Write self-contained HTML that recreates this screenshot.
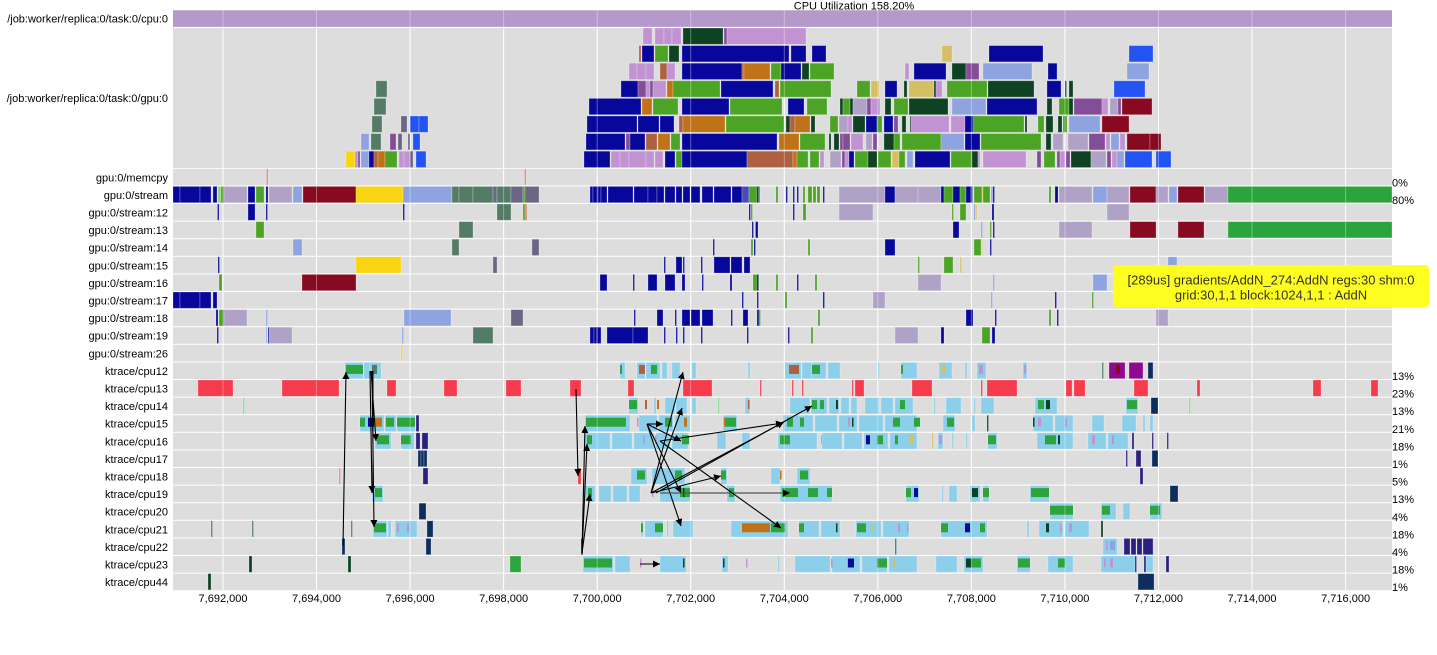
<!DOCTYPE html>
<html><head><meta charset="utf-8"><style>
html,body{margin:0;padding:0;background:#fff;}
svg{display:block;font-family:"Liberation Sans",Arial,sans-serif;}
.r rect{height:16.3px;stroke:#fff;stroke-opacity:.3;stroke-width:.8;}
.r rect.i{y:2.5px;height:9px;stroke:none;}
.db{fill:#07079b}.lp{fill:#c193d3}.dg{fill:#0e4222}.gr{fill:#4ca424}.or{fill:#c07216}
.br{fill:#ad6042}.pw{fill:#8ea3e0}.gp{fill:#b0a1c6}.dr{fill:#880a20}.bb{fill:#2353f2}
.kh{fill:#d4bf64}.tg{fill:#537b66}.sl{fill:#6b6684}.yl{fill:#f8d412}.vi{fill:#844d98}
.sb{fill:#8ccfea}.kg{fill:#2da43c}.rd{fill:#f53b4c}.nv{fill:#0d2d5e}.in{fill:#2b1f80}
.mg{fill:#8e0a8e}.lg{fill:#7de08f}.sg{fill:#2ca43e}.mb{fill:#4a4ab5}.lgn{fill:#90d070}
.sal{fill:#e8806e}.tl{fill:#2a7a8a}.lr{fill:#f08080}
.lab{font-size:11px;fill:#000;text-anchor:end}
.pct{font-size:11px;fill:#000}
.ax{font-size:11px;fill:#000;text-anchor:middle}
.ar{stroke:#000;stroke-width:1.1;fill:none;marker-end:url(#ah)}
</style></head><body>
<svg width="1437" height="655" viewBox="0 0 1437 655" xmlns="http://www.w3.org/2000/svg">
<defs><marker id="ah" viewBox="0 0 10 10" refX="10" refY="5" markerWidth="7" markerHeight="7" orient="auto" markerUnits="userSpaceOnUse"><path d="M0,0L10,5L0,10z" fill="#000"/></marker></defs>
<rect x="0" y="0" width="1437" height="655" fill="#fff"/>
<text x="854" y="9.5" font-size="11" text-anchor="middle">CPU Utilization 158.20%</text>
<g fill="#dddddd">
<rect x="173" y="10" width="1219" height="17"/>
<rect x="173" y="28" width="1219" height="140"/>
<rect x="173" y="168.8" width="1219" height="16.6"/>
<rect x="173" y="186.4" width="1219" height="16.6"/>
<rect x="173" y="204.0" width="1219" height="16.6"/>
<rect x="173" y="221.6" width="1219" height="16.6"/>
<rect x="173" y="239.2" width="1219" height="16.6"/>
<rect x="173" y="256.8" width="1219" height="16.6"/>
<rect x="173" y="274.4" width="1219" height="16.6"/>
<rect x="173" y="292.0" width="1219" height="16.6"/>
<rect x="173" y="309.6" width="1219" height="16.6"/>
<rect x="173" y="327.2" width="1219" height="16.6"/>
<rect x="173" y="344.8" width="1219" height="16.6"/>
<rect x="173" y="362.4" width="1219" height="16.6"/>
<rect x="173" y="380.0" width="1219" height="16.6"/>
<rect x="173" y="397.6" width="1219" height="16.6"/>
<rect x="173" y="415.2" width="1219" height="16.6"/>
<rect x="173" y="432.8" width="1219" height="16.6"/>
<rect x="173" y="450.4" width="1219" height="16.6"/>
<rect x="173" y="468.0" width="1219" height="16.6"/>
<rect x="173" y="485.6" width="1219" height="16.6"/>
<rect x="173" y="503.2" width="1219" height="16.6"/>
<rect x="173" y="520.8" width="1219" height="16.6"/>
<rect x="173" y="538.4" width="1219" height="16.6"/>
<rect x="173" y="556.0" width="1219" height="16.6"/>
<rect x="173" y="573.6" width="1219" height="16.6"/>
</g>
<g stroke="#fff" stroke-width="1">
<line x1="223" y1="10" x2="223" y2="590"/><line x1="316.5" y1="10" x2="316.5" y2="590"/><line x1="410.1" y1="10" x2="410.1" y2="590"/><line x1="503.6" y1="10" x2="503.6" y2="590"/><line x1="597.2" y1="10" x2="597.2" y2="590"/><line x1="690.7" y1="10" x2="690.7" y2="590"/><line x1="784.3" y1="10" x2="784.3" y2="590"/><line x1="877.8" y1="10" x2="877.8" y2="590"/><line x1="971.4" y1="10" x2="971.4" y2="590"/><line x1="1064.9" y1="10" x2="1064.9" y2="590"/><line x1="1158.5" y1="10" x2="1158.5" y2="590"/><line x1="1252" y1="10" x2="1252" y2="590"/><line x1="1345.6" y1="10" x2="1345.6" y2="590"/>
</g>
<rect x="173" y="10.4" width="1219" height="16.4" fill="#b599cb"/>
<g class="r" transform="translate(0,28.0)">
<rect class="lp" x="643" width="9"/><rect class="lp" x="655" width="9"/><rect class="lp" x="664" width="8"/><rect class="lp" x="672" width="9"/><rect class="dg" x="683" width="40"/><rect class="vi" x="724" width="3"/><rect class="lp" x="727" width="79"/>
</g>
<g class="r" transform="translate(0,45.6)">
<rect class="br" x="639" width="2"/><rect class="db" x="642" width="12"/><rect class="gr" x="655" width="13"/><rect class="dg" x="669" width="10"/><rect class="db" x="682" width="107"/><rect class="db" x="791" width="15"/><rect class="db" x="812" width="14"/><rect class="kh" x="942" width="10"/><rect class="db" x="989" width="54"/><rect class="bb" x="1129" width="24"/>
</g>
<g class="r" transform="translate(0,63.2)">
<rect class="lp" x="629" width="8"/><rect class="lp" x="637" width="9"/><rect class="lp" x="646" width="8"/><rect class="br" x="660" width="7"/><rect class="lp" x="667" width="8"/><rect class="db" x="682" width="60"/><rect class="br" x="742" width="2"/><rect class="or" x="744" width="26"/><rect class="gr" x="771" width="10"/><rect class="db" x="781" width="20"/><rect class="dg" x="802" width="7"/><rect class="gr" x="810" width="24"/><rect class="lp" x="905" width="4"/><rect class="db" x="914" width="32"/><rect class="dg" x="952" width="14"/><rect class="vi" x="966" width="13"/><rect class="pw" x="983" width="49"/><rect class="db" x="1048" width="9"/><rect class="pw" x="1127" width="22"/>
</g>
<g class="r" transform="translate(0,80.8)">
<rect class="tg" x="376" width="11"/><rect class="db" x="621" width="17"/><rect class="vi" x="638" width="8"/><rect class="lp" x="646" width="4"/><rect class="vi" x="650" width="3"/><rect class="lp" x="653" width="13"/><rect class="or" x="667" width="6"/><rect class="gr" x="673" width="47"/><rect class="db" x="721" width="52"/><rect class="br" x="775" width="4"/><rect class="gr" x="780" width="51"/><rect class="gr" x="857" width="13"/><rect class="kh" x="871" width="8"/><rect class="db" x="885" width="12"/><rect class="dg" x="904" width="3"/><rect class="kh" x="909" width="25"/><rect class="dg" x="934" width="2"/><rect class="lp" x="936" width="6"/><rect class="gr" x="947" width="40"/><rect class="dg" x="988" width="46"/><rect class="db" x="1047" width="14"/><rect class="dg" x="1065" width="1.5"/><rect class="dg" x="1069" width="4"/><rect class="bb" x="1114" width="31"/>
</g>
<g class="r" transform="translate(0,98.4)">
<rect class="tg" x="374" width="12"/><rect class="db" x="589" width="52"/><rect class="or" x="642" width="10"/><rect class="gr" x="653" width="25"/><rect class="db" x="682" width="47"/><rect class="gr" x="730" width="52"/><rect class="db" x="788" width="16"/><rect class="gr" x="807" width="20"/><rect class="dg" x="840" width="3"/><rect class="gr" x="843" width="7"/><rect class="dg" x="850" width="3"/><rect class="gp" x="853" width="14"/><rect class="vi" x="867" width="4"/><rect class="lp" x="871" width="9"/><rect class="dg" x="885" width="6"/><rect class="gr" x="894" width="14"/><rect class="dg" x="909" width="39"/><rect class="pw" x="952" width="34"/><rect class="db" x="987" width="50"/><rect class="dg" x="1047" width="5"/><rect class="gr" x="1059" width="10"/><rect class="dg" x="1069" width="4"/><rect class="vi" x="1074" width="28"/><rect class="lp" x="1102" width="6"/><rect class="gp" x="1110" width="8"/><rect class="vi" x="1118" width="3"/><rect class="dr" x="1122" width="30"/>
</g>
<g class="r" transform="translate(0,116.0)">
<rect class="tg" x="372" width="10"/><rect class="sl" x="401" width="6"/><rect class="bb" x="410" width="9"/><rect class="bb" x="419" width="9"/><rect class="db" x="587" width="50"/><rect class="db" x="638" width="21"/><rect class="db" x="660" width="14"/><rect class="br" x="679" width="4"/><rect class="or" x="683" width="42"/><rect class="gr" x="726" width="58"/><rect class="dg" x="786" width="4"/><rect class="br" x="790" width="5"/><rect class="or" x="795" width="15"/><rect class="dg" x="811" width="4"/><rect class="gr" x="830" width="8"/><rect class="gp" x="839" width="9"/><rect class="lp" x="848" width="4"/><rect class="dg" x="853" width="12"/><rect class="db" x="866" width="11"/><rect class="gr" x="877" width="5"/><rect class="db" x="884" width="9"/><rect class="vi" x="894" width="4"/><rect class="dg" x="902" width="4"/><rect class="dg" x="910" width="1.5"/><rect class="lp" x="911" width="38"/><rect class="lp" x="951" width="14"/><rect class="db" x="965" width="8"/><rect class="gr" x="973" width="51"/><rect class="dg" x="1025" width="2"/><rect class="gr" x="1038" width="6"/><rect class="dg" x="1046" width="7"/><rect class="dg" x="1058" width="4"/><rect class="gr" x="1063" width="4"/><rect class="pw" x="1069" width="31"/><rect class="dr" x="1102" width="27"/>
</g>
<g class="r" transform="translate(0,133.6)">
<rect class="pw" x="361" width="8"/><rect class="tg" x="371" width="10"/><rect class="vi" x="390" width="6"/><rect class="sl" x="398" width="4"/><rect class="sl" x="408" width="2"/><rect class="bb" x="413" width="7"/><rect class="db" x="586" width="39"/><rect class="vi" x="626" width="4"/><rect class="db" x="630" width="15"/><rect class="br" x="646" width="11"/><rect class="or" x="658" width="12"/><rect class="gr" x="671" width="9"/><rect class="db" x="682" width="95"/><rect class="or" x="779" width="20"/><rect class="gr" x="800" width="25"/><rect class="dg" x="829" width="2"/><rect class="dg" x="834" width="5"/><rect class="vi" x="840" width="3"/><rect class="vi" x="843" width="7"/><rect class="lp" x="851" width="12"/><rect class="gp" x="866" width="6"/><rect class="vi" x="873" width="4"/><rect class="dg" x="884" width="10"/><rect class="gr" x="894" width="6"/><rect class="gr" x="902" width="39"/><rect class="pw" x="941" width="23"/><rect class="db" x="965" width="15"/><rect class="gr" x="981" width="60"/><rect class="dg" x="1046" width="5"/><rect class="gp" x="1053" width="10"/><rect class="gp" x="1068" width="20"/><rect class="vi" x="1089" width="16"/><rect class="lp" x="1106" width="4"/><rect class="pw" x="1111" width="8"/><rect class="lp" x="1120" width="5"/><rect class="dr" x="1127" width="23"/><rect class="dr" x="1150" width="11"/>
</g>
<g class="r" transform="translate(0,151.2)">
<rect class="yl" x="346" width="9"/><rect class="lp" x="355" width="3"/><rect class="vi" x="358" width="2"/><rect class="pw" x="361" width="8"/><rect class="db" x="369" width="5"/><rect class="br" x="374" width="4"/><rect class="or" x="378" width="7"/><rect class="gr" x="385" width="12"/><rect class="lp" x="399" width="5"/><rect class="lp" x="404" width="6"/><rect class="sl" x="410" width="3"/><rect class="bb" x="416" width="10"/><rect class="db" x="584" width="26"/><rect class="lp" x="611" width="9"/><rect class="lp" x="620" width="9"/><rect class="lp" x="629" width="17"/><rect class="lp" x="646" width="8"/><rect class="lp" x="655" width="8"/><rect class="db" x="665" width="10"/><rect class="gr" x="676" width="6"/><rect class="db" x="682" width="65"/><rect class="br" x="747" width="46"/><rect class="or" x="793" width="4"/><rect class="gr" x="797" width="11"/><rect class="gr" x="810" width="9"/><rect class="lp" x="820" width="4"/><rect class="gp" x="830" width="11"/><rect class="vi" x="842" width="3"/><rect class="lp" x="845" width="4"/><rect class="db" x="849" width="5"/><rect class="gr" x="855" width="13"/><rect class="dg" x="868" width="9"/><rect class="gr" x="878" width="13"/><rect class="kh" x="892" width="7"/><rect class="gr" x="899" width="6"/><rect class="pw" x="907" width="6"/><rect class="db" x="915" width="35"/><rect class="gr" x="951" width="21"/><rect class="dg" x="972" width="6"/><rect class="lp" x="978" width="2"/><rect class="lp" x="983" width="43"/><rect class="vi" x="1037" width="4"/><rect class="gr" x="1044" width="11"/><rect class="vi" x="1057" width="3"/><rect class="lp" x="1060" width="5"/><rect class="vi" x="1066" width="4"/><rect class="dg" x="1071" width="20"/><rect class="gp" x="1091" width="15"/><rect class="vi" x="1107" width="4"/><rect class="lp" x="1112" width="5"/><rect class="pw" x="1117" width="7"/><rect class="bb" x="1125" width="27"/><rect class="bb" x="1156" width="15"/>
</g>
<g class="r" transform="translate(0,168.8)">
<rect class="sal" x="266.5" width="1.5"/><rect class="sal" x="524.5" width="1.5"/>
</g>
<g class="r" transform="translate(0,186.4)">
<rect class="db" x="173" width="7"/><rect class="db" x="180" width="20"/><rect class="db" x="200" width="11"/><rect class="db" x="213" width="4"/><rect class="lgn" x="218" width="3"/><rect class="gr" x="221" width="3"/><rect class="gp" x="224" width="23"/><rect class="db" x="248" width="7"/><rect class="gr" x="256" width="8"/><rect class="db" x="266" width="2"/><rect class="gp" x="269" width="23"/><rect class="pw" x="293" width="9"/><rect class="dr" x="303" width="53"/><rect class="yl" x="356" width="47"/><rect class="pw" x="403" width="49"/><rect class="tg" x="452" width="7"/><rect class="tg" x="459" width="14"/><rect class="tg" x="473" width="20"/><rect class="sl" x="493" width="4"/><rect class="tg" x="497" width="14"/><rect class="sl" x="511" width="12"/><rect class="gr" x="523" width="2"/><rect class="sl" x="525" width="14"/>
<rect class="db" x="590" width="3"/><rect class="db" x="593" width="5"/><rect class="db" x="598" width="3"/><rect class="db" x="601" width="6"/><rect class="db" x="608" width="25"/><rect class="db" x="634" width="14"/><rect class="db" x="648" width="9"/><rect class="db" x="657" width="7"/><rect class="db" x="665" width="10"/><rect class="db" x="676" width="6"/><rect class="db" x="683" width="7"/><rect class="db" x="691" width="9"/><rect class="db" x="702" width="11"/><rect class="db" x="714" width="17"/><rect class="db" x="732" width="10"/><rect class="mb" x="742" width="7"/><rect class="gr" x="749" width="11"/><rect class="db" x="757" width="1.5"/><rect class="gr" x="776" width="2"/><rect class="db" x="786" width="1.5"/><rect class="db" x="793" width="1.5"/><rect class="db" x="797" width="1.5"/><rect class="gr" x="803" width="2"/><rect class="gr" x="808" width="4"/><rect class="gr" x="813" width="3"/><rect class="gr" x="817" width="3"/><rect class="db" x="823" width="1.5"/><rect class="gp" x="839" width="46"/><rect class="db" x="885" width="10"/><rect class="gp" x="895" width="23"/><rect class="gp" x="918" width="23"/><rect class="db" x="941" width="3"/><rect class="gr" x="944" width="9"/><rect class="db" x="953" width="7"/><rect class="gr" x="960" width="6"/><rect class="db" x="966" width="5"/><rect class="db" x="971" width="1.5"/><rect class="gr" x="974" width="8"/><rect class="kh" x="982" width="1.5"/><rect class="gr" x="983" width="7"/><rect class="pw" x="991" width="2"/><rect class="db" x="993" width="1.5"/><rect class="gr" x="1049" width="2"/><rect class="db" x="1055" width="3"/><rect class="gp" x="1059" width="33"/><rect class="pw" x="1093" width="14"/><rect class="gp" x="1107" width="22"/><rect class="dr" x="1130" width="26"/><rect class="gp" x="1156" width="12"/><rect class="pw" x="1169" width="8"/><rect class="dr" x="1178" width="26"/><rect class="gp" x="1205" width="23"/><rect class="sg" x="1228" width="164"/>
</g>
<g class="r" transform="translate(0,204.0)">
<rect class="db" x="217.5" width="1.5"/><rect class="db" x="248" width="7"/><rect class="db" x="266" width="1.5"/><rect class="db" x="403" width="1.5"/><rect class="tg" x="497" width="14"/><rect class="gr" x="523" width="2"/><rect class="sal" x="525" width="2"/><rect class="db" x="749" width="1.5"/><rect class="gr" x="751" width="1.5"/><rect class="db" x="793" width="1.5"/><rect class="gr" x="803" width="3"/><rect class="gp" x="839" width="34"/><rect class="gr" x="952" width="1.5"/><rect class="gr" x="960" width="6"/><rect class="pw" x="974" width="1.5"/><rect class="kh" x="976" width="1"/><rect class="db" x="992" width="2"/><rect class="gp" x="1107" width="22"/>
</g>
<g class="r" transform="translate(0,221.6)">
<rect class="gr" x="256" width="8"/><rect class="tg" x="459" width="14"/><rect class="db" x="752" width="1.5"/><rect class="db" x="755.5" width="2.5"/><rect class="db" x="953" width="6"/><rect class="pw" x="981" width="1.5"/><rect class="gr" x="990" width="1.5"/><rect class="db" x="993" width="1.5"/><rect class="gp" x="1059" width="33"/><rect class="dr" x="1130" width="26"/><rect class="dr" x="1178" width="26"/><rect class="sg" x="1228" width="164"/>
</g>
<g class="r" transform="translate(0,239.2)">
<rect class="pw" x="293" width="9"/><rect class="tg" x="452" width="7"/><rect class="sl" x="532" width="7"/><rect class="db" x="713" width="1.5"/><rect class="gr" x="751" width="2"/><rect class="db" x="754" width="1.5"/><rect class="gr" x="808" width="2"/><rect class="db" x="885" width="10"/><rect class="gr" x="974" width="7"/><rect class="kh" x="981.5" width="1"/><rect class="db" x="990" width="1.5"/>
</g>
<g class="r" transform="translate(0,256.8)">
<rect class="db" x="218" width="1.5"/><rect class="yl" x="356" width="45"/><rect class="sl" x="493" width="4"/><rect class="db" x="664" width="1.5"/><rect class="db" x="676" width="6"/><rect class="db" x="683" width="1.5"/><rect class="db" x="701" width="1.5"/><rect class="db" x="714" width="16"/><rect class="db" x="731" width="11"/><rect class="db" x="744" width="6"/><rect class="gr" x="918" width="1.5"/><rect class="gr" x="944" width="9"/><rect class="kh" x="960" width="1.5"/><rect class="pw" x="1168" width="9"/>
</g>
<g class="r" transform="translate(0,274.4)">
<rect class="gr" x="219" width="3"/><rect class="dr" x="302" width="54"/><rect class="db" x="600" width="7"/><rect class="db" x="633" width="1.5"/><rect class="db" x="648" width="9"/><rect class="db" x="665" width="10"/><rect class="db" x="682" width="3"/><rect class="db" x="702" width="1.5"/><rect class="db" x="730" width="2"/><rect class="gr" x="753" width="6"/><rect class="db" x="757" width="1.5"/><rect class="gr" x="776" width="2"/><rect class="db" x="797" width="1.5"/><rect class="gr" x="815" width="2"/><rect class="gp" x="918" width="23"/><rect class="pw" x="993" width="1.5"/><rect class="pw" x="1093" width="14"/>
</g>
<g class="r" transform="translate(0,292.0)">
<rect class="db" x="173" width="7"/><rect class="db" x="180" width="20"/><rect class="db" x="200" width="11"/><rect class="db" x="213" width="4"/><rect class="db" x="742" width="1.5"/><rect class="db" x="757" width="1.5"/><rect class="gr" x="785" width="2"/><rect class="db" x="823" width="1.5"/><rect class="gp" x="873" width="12"/><rect class="pw" x="991" width="1.5"/><rect class="db" x="1055" width="1.5"/><rect class="gr" x="1092" width="1.5"/>
</g>
<g class="r" transform="translate(0,309.6)">
<rect class="db" x="216" width="2"/><rect class="gr" x="219" width="5"/><rect class="gp" x="224" width="23"/><rect class="pw" x="266" width="1.5"/><rect class="pw" x="404" width="47"/><rect class="sl" x="511" width="12"/><rect class="db" x="634" width="1.5"/><rect class="db" x="657" width="6"/><rect class="db" x="675" width="1.5"/><rect class="db" x="682" width="8"/><rect class="db" x="691" width="9"/><rect class="db" x="702" width="11"/><rect class="db" x="731" width="1.5"/><rect class="db" x="743" width="5"/><rect class="db" x="757" width="2"/><rect class="gr" x="759" width="1.5"/><rect class="gr" x="818" width="2"/><rect class="db" x="966" width="7"/><rect class="db" x="995" width="1.5"/><rect class="gr" x="1049" width="2"/><rect class="db" x="1057" width="1.5"/><rect class="gp" x="1156" width="12"/>
</g>
<g class="r" transform="translate(0,327.2)">
<rect class="db" x="217" width="1.5"/><rect class="pw" x="266" width="1"/><rect class="db" x="268" width="1.5"/><rect class="gp" x="269" width="23"/><rect class="pw" x="402" width="1.5"/><rect class="tg" x="473" width="20"/><rect class="db" x="590" width="4"/><rect class="db" x="594" width="3"/><rect class="db" x="597" width="4"/><rect class="db" x="607" width="26"/><rect class="db" x="633" width="15"/><rect class="db" x="664" width="1.5"/><rect class="db" x="676" width="1.5"/><rect class="db" x="683" width="1.5"/><rect class="db" x="701" width="1.5"/><rect class="db" x="747" width="1.5"/><rect class="db" x="788" width="1.5"/><rect class="gr" x="811" width="2"/><rect class="gp" x="895" width="23"/><rect class="db" x="941" width="3"/><rect class="gr" x="982" width="8"/><rect class="db" x="992" width="3"/>
</g>
<g class="r" transform="translate(0,344.8)">
<rect class="yl" x="401" width="1.5"/>
</g>
<g class="r" transform="translate(0,362.4)">
<rect class="sb" x="345" width="18"/><rect class="sb" x="364" width="6"/><rect class="sb" x="370" width="11"/><rect class="kg i" x="346" width="17"/><rect class="tg i" x="372" width="5"/><rect class="sb" x="620" width="5"/><rect class="kg i" x="620" width="2"/><rect class="sb" x="637" width="8"/><rect class="sb" x="646" width="14"/><rect class="br i" x="639" width="6"/><rect class="kg i" x="651" width="6"/><rect class="sb" x="662" width="5"/><rect class="sb" x="672" width="8"/><rect class="sb" x="692" width="4"/><rect class="sb" x="748" width="2"/><rect class="sb" x="785" width="16"/><rect class="sb" x="802" width="10"/><rect class="sb" x="812" width="14"/><rect class="sb" x="828" width="12"/><rect class="br i" x="789" width="10"/><rect class="kg i" x="812" width="8"/><rect class="sb" x="878" width="1.5"/><rect class="sb" x="901" width="16"/><rect class="kg i" x="901" width="2"/><rect class="sb" x="939" width="13"/><rect class="kh i" x="942" width="4"/><rect class="sb" x="965" width="2"/><rect class="sb" x="977" width="9"/><rect class="lp i" x="979" width="4"/><rect class="sb" x="1023" width="4"/><rect class="lp i" x="1024" width="2"/><rect class="tg" x="1102" width="1.5"/><rect class="mg" x="1109" width="16"/><rect class="dr i" x="1116" width="4"/><rect class="mg" x="1129" width="14"/><rect class="nv" x="1148" width="5"/>
</g>
<g class="r" transform="translate(0,380.0)">
<rect class="rd" x="198" width="35"/><rect class="rd" x="282" width="57"/><rect class="rd" x="387" width="9"/><rect class="rd" x="444" width="13"/><rect class="rd" x="506" width="15"/><rect class="rd" x="570" width="11"/><rect class="rd" x="628" width="6"/><rect class="rd" x="683" width="29"/><rect class="rd" x="760" width="1.5"/><rect class="rd" x="792" width="1.5"/><rect class="rd" x="802" width="1.5"/><rect class="rd" x="852" width="1.5"/><rect class="rd" x="855" width="9"/><rect class="rd" x="912" width="20"/><rect class="rd" x="981" width="1.5"/><rect class="rd" x="987" width="30"/><rect class="rd" x="1066" width="6"/><rect class="rd" x="1074" width="11"/><rect class="rd" x="1134" width="14"/><rect class="rd" x="1197" width="3"/><rect class="rd" x="1313" width="8"/><rect class="rd" x="1371" width="7"/>
</g>
<g class="r" transform="translate(0,397.6)">
<rect class="lg" x="243" width="1.5"/><rect class="sb" x="629" width="9"/><rect class="kg i" x="629" width="8"/><rect class="br i" x="645" width="2"/><rect class="sb" x="654" width="2"/><rect class="or i" x="657" width="2"/><rect class="sb" x="665" width="10"/><rect class="sb" x="676" width="11"/><rect class="sb" x="692" width="4"/><rect class="lg" x="718" width="1.5"/><rect class="sb" x="745" width="5"/><rect class="br i" x="748" width="1.5"/><rect class="sb" x="790" width="20"/><rect class="sb" x="811" width="16"/><rect class="sb" x="829" width="10"/><rect class="sb" x="841" width="8"/><rect class="sb" x="851" width="6"/><rect class="kg i" x="812" width="5"/><rect class="kg i" x="820" width="4"/><rect class="dg i" x="836" width="2"/><rect class="sb" x="865" width="14"/><rect class="sb" x="881" width="12"/><rect class="sb" x="895" width="18"/><rect class="kg i" x="900" width="5"/><rect class="sb" x="934" width="1.5"/><rect class="sb" x="946" width="15"/><rect class="sb" x="974" width="1.5"/><rect class="sb" x="981" width="13"/><rect class="sb" x="1035" width="22"/><rect class="kg i" x="1038" width="6"/><rect class="dg i" x="1046" width="4"/><rect class="sb" x="1126" width="12"/><rect class="kg i" x="1127" width="10"/><rect class="nv" x="1151" width="7"/><rect class="lg" x="1189" width="1.5"/>
</g>
<g class="r" transform="translate(0,415.2)">
<rect class="sb" x="360" width="24"/><rect class="sb" x="385" width="11"/><rect class="sb" x="397" width="18"/><rect class="kg i" x="360" width="5"/><rect class="db i" x="368" width="6"/><rect class="or i" x="375" width="7"/><rect class="kg i" x="386" width="8"/><rect class="kg i" x="397" width="18"/><rect class="in" x="416" width="3"/><rect class="sb" x="585" width="45"/><rect class="kg i" x="586" width="40"/><rect class="lp i" x="637" width="1.5"/><rect class="sb" x="639" width="18"/><rect class="sb" x="659" width="14"/><rect class="sb" x="675" width="15"/><rect class="kg i" x="665" width="7"/><rect class="or i" x="684" width="3"/><rect class="sb" x="723" width="14"/><rect class="or i" x="724" width="2"/><rect class="kg i" x="726" width="10"/><rect class="sb" x="783" width="30"/><rect class="sb" x="815" width="22"/><rect class="sb" x="839" width="18"/><rect class="sb" x="859" width="24"/><rect class="sb" x="885" width="32"/><rect class="kg i" x="787" width="6"/><rect class="kg i" x="800" width="4"/><rect class="lp i" x="848" width="2"/><rect class="dg i" x="852" width="1.5"/><rect class="kg i" x="893" width="7"/><rect class="kg i" x="914" width="6"/><rect class="sb" x="943" width="12"/><rect class="kg i" x="947" width="7"/><rect class="sb" x="972" width="3"/><rect class="dg" x="987" width="1.5"/><rect class="sb" x="1033" width="20"/><rect class="sb" x="1055" width="18"/><rect class="dg i" x="1033" width="1.5"/><rect class="lp i" x="1038" width="3"/><rect class="lp i" x="1065" width="2"/><rect class="sb" x="1092" width="12"/><rect class="sb" x="1122" width="14"/><rect class="sb" x="1143" width="2"/><rect class="sb" x="1150" width="3"/>
</g>
<g class="r" transform="translate(0,432.8)">
<rect class="sb" x="375" width="16"/><rect class="kg i" x="377" width="12"/><rect class="sb" x="401" width="13"/><rect class="kg i" x="401" width="10"/><rect class="in" x="416" width="4"/><rect class="in" x="422" width="6"/><rect class="sb" x="585" width="25"/><rect class="sb" x="612" width="20"/><rect class="sb" x="634" width="20"/><rect class="sb" x="656" width="14"/><rect class="sb" x="672" width="16"/><rect class="kg i" x="587" width="5"/><rect class="lp i" x="643" width="1.5"/><rect class="lp i" x="655" width="1.5"/><rect class="kg i" x="682" width="7"/><rect class="sb" x="717" width="9"/><rect class="sb" x="742" width="8"/><rect class="sb" x="778" width="39"/><rect class="kg i" x="780" width="10"/><rect class="lp i" x="821" width="2"/><rect class="sb" x="822" width="20"/><rect class="sb" x="844" width="18"/><rect class="sb" x="864" width="24"/><rect class="sb" x="890" width="27"/><rect class="db i" x="866" width="4"/><rect class="kg i" x="877" width="6"/><rect class="kg i" x="895" width="3"/><rect class="kh i" x="910" width="3"/><rect class="kh" x="932" width="1.5"/><rect class="sb" x="938" width="5"/><rect class="lp i" x="939" width="3"/><rect class="sb" x="952" width="1.5"/><rect class="sb" x="966" width="1.5"/><rect class="sb" x="988" width="9"/><rect class="kg i" x="988" width="8"/><rect class="sb" x="1037" width="36"/><rect class="kg i" x="1045" width="11"/><rect class="dg i" x="1058" width="2"/><rect class="sb" x="1088" width="18"/><rect class="sb" x="1108" width="20"/><rect class="lp i" x="1092" width="3"/><rect class="lp i" x="1112" width="2"/><rect class="in" x="1132" width="2"/><rect class="in" x="1152" width="1.5"/><rect class="in" x="1167" width="1.5"/>
</g>
<g class="r" transform="translate(0,450.4)">
<rect class="nv" x="418" width="3"/><rect class="nv" x="421" width="3"/><rect class="nv" x="424" width="3"/><rect class="in" x="1126" width="1.5"/><rect class="in" x="1136" width="5"/><rect class="nv" x="1152" width="6"/>
</g>
<g class="r" transform="translate(0,468.0)">
<rect class="lr" x="339" width="1.5"/><rect class="in" x="423" width="5"/><rect class="rd" x="578" width="3"/><rect class="sb" x="631" width="16"/><rect class="kg i" x="637" width="8"/><rect class="sb" x="652" width="33"/><rect class="kg i" x="675" width="7"/><rect class="sb" x="721" width="6"/><rect class="kg i" x="721" width="5"/><rect class="sb" x="771" width="9"/><rect class="or i" x="780" width="1.5"/><rect class="sb" x="797" width="13"/><rect class="kg i" x="800" width="8"/><rect class="in" x="1140" width="3"/>
</g>
<g class="r" transform="translate(0,485.6)">
<rect class="sb" x="372" width="11"/><rect class="kg i" x="375" width="7"/><rect class="sb" x="585" width="10"/><rect class="kg i" x="588" width="4"/><rect class="sb" x="599" width="12"/><rect class="sb" x="613" width="14"/><rect class="sb" x="629" width="11"/><rect class="lp i" x="652" width="1.5"/><rect class="sb" x="660" width="30"/><rect class="kg i" x="680" width="10"/><rect class="dg i" x="683" width="1.5"/><rect class="sb" x="727" width="8"/><rect class="kg i" x="729" width="5"/><rect class="sb" x="780" width="52"/><rect class="kg i" x="782" width="16"/><rect class="kg i" x="808" width="10"/><rect class="kg i" x="827" width="5"/><rect class="sb" x="906" width="13"/><rect class="kg i" x="906" width="5"/><rect class="db i" x="914" width="4"/><rect class="sb" x="942" width="1.5"/><rect class="sb" x="949" width="8"/><rect class="sb" x="970" width="10"/><rect class="dg i" x="972" width="6"/><rect class="sb" x="983" width="6"/><rect class="kg i" x="983" width="6"/><rect class="sb" x="1030" width="19"/><rect class="kg i" x="1031" width="18"/><rect class="nv" x="1170" width="8"/>
</g>
<g class="r" transform="translate(0,503.2)">
<rect class="nv" x="419" width="7"/><rect class="sb" x="1050" width="23"/><rect class="kg i" x="1050" width="23"/><rect class="sb" x="1101" width="15"/><rect class="kg i" x="1102" width="8"/><rect class="sb" x="1123" width="7"/><rect class="sb" x="1150" width="12"/><rect class="kg i" x="1150" width="10"/>
</g>
<g class="r" transform="translate(0,520.8)">
<rect class="tg" x="211" width="1.5"/><rect class="tg" x="252" width="1.5"/><rect class="tg" x="351" width="1.5"/><rect class="sb" x="373" width="14"/><rect class="kg i" x="374" width="12"/><rect class="sb" x="388" width="3"/><rect class="sb" x="395" width="22"/><rect class="lp i" x="397" width="2"/><rect class="lp i" x="407" width="2"/><rect class="nv" x="427" width="6"/><rect class="sb" x="641" width="2"/><rect class="kg i" x="641" width="2"/><rect class="sb" x="645" width="18"/><rect class="kg i" x="655" width="8"/><rect class="sb" x="667" width="1.5"/><rect class="sb" x="673" width="20"/><rect class="sb" x="731" width="57"/><rect class="or i" x="742" width="28"/><rect class="kg i" x="771" width="14"/><rect class="sb" x="799" width="20"/><rect class="sb" x="821" width="19"/><rect class="kg i" x="799" width="5"/><rect class="dg i" x="836" width="1.5"/><rect class="sb" x="856" width="25"/><rect class="sb" x="883" width="26"/><rect class="kg i" x="857" width="9"/><rect class="kh i" x="871" width="2"/><rect class="lp i" x="898" width="2"/><rect class="lp i" x="907" width="1.5"/><rect class="sb" x="941" width="46"/><rect class="kg i" x="941" width="7"/><rect class="db i" x="965" width="5"/><rect class="kg i" x="980" width="5"/><rect class="sb" x="1027" width="2"/><rect class="sb" x="1039" width="24"/><rect class="sb" x="1065" width="24"/><rect class="dg i" x="1046" width="3"/><rect class="lp i" x="1060" width="1.5"/><rect class="lp i" x="1069" width="3"/><rect class="dg" x="1101" width="2"/>
</g>
<g class="r" transform="translate(0,538.4)">
<rect class="nv" x="342" width="3"/><rect class="nv" x="426" width="5"/><rect class="nv" x="581" width="2"/><rect class="tl" x="895" width="1.5"/><rect class="sb" x="1103" width="14"/><rect class="lp i" x="1106" width="1.5"/><rect class="pw i" x="1110" width="5"/><rect class="in" x="1124" width="6"/><rect class="in" x="1131" width="5"/><rect class="in" x="1137" width="5"/><rect class="in" x="1143" width="10"/>
</g>
<g class="r" transform="translate(0,556.0)">
<rect class="dg" x="249" width="3"/><rect class="dg" x="348" width="3"/><rect class="kg" x="510" width="11"/><rect class="sb" x="583" width="30"/><rect class="sb" x="615" width="15"/><rect class="kg i" x="584" width="28"/><rect class="lp i" x="640" width="1.5"/><rect class="sb" x="660" width="26"/><rect class="dg i" x="683" width="1.5"/><rect class="sb" x="722" width="6"/><rect class="dg i" x="723" width="1.5"/><rect class="lp i" x="746" width="1.5"/><rect class="sb" x="778" width="1.5"/><rect class="sb" x="795" width="35"/><rect class="sb" x="832" width="28"/><rect class="sb" x="862" width="25"/><rect class="sb" x="889" width="28"/><rect class="lp i" x="831" width="1.5"/><rect class="lp i" x="847" width="1.5"/><rect class="db i" x="848" width="6"/><rect class="kg i" x="877" width="10"/><rect class="kh i" x="893" width="2"/><rect class="sb" x="936" width="21"/><rect class="sb" x="964" width="19"/><rect class="dg i" x="966" width="5"/><rect class="kg i" x="971" width="10"/><rect class="sb" x="1017" width="13"/><rect class="kg i" x="1018" width="12"/><rect class="sb" x="1048" width="25"/><rect class="kg i" x="1058" width="7"/><rect class="sb" x="1101" width="36"/><rect class="lp i" x="1104" width="1.5"/><rect class="lp i" x="1110" width="3"/><rect class="in" x="1135" width="1.5"/><rect class="in" x="1144" width="2"/><rect class="sb" x="1146" width="7"/><rect class="in" x="1166" width="3"/>
</g>
<g class="r" transform="translate(0,573.6)">
<rect class="dg" x="208" width="3"/><rect class="nv" x="1138" width="16"/>
</g>
<g stroke="#fff" stroke-width="1" stroke-opacity="0.35">
<line x1="223" y1="10" x2="223" y2="590"/><line x1="316.5" y1="10" x2="316.5" y2="590"/><line x1="410.1" y1="10" x2="410.1" y2="590"/><line x1="503.6" y1="10" x2="503.6" y2="590"/><line x1="597.2" y1="10" x2="597.2" y2="590"/><line x1="690.7" y1="10" x2="690.7" y2="590"/><line x1="784.3" y1="10" x2="784.3" y2="590"/><line x1="877.8" y1="10" x2="877.8" y2="590"/><line x1="971.4" y1="10" x2="971.4" y2="590"/><line x1="1064.9" y1="10" x2="1064.9" y2="590"/><line x1="1158.5" y1="10" x2="1158.5" y2="590"/><line x1="1252" y1="10" x2="1252" y2="590"/><line x1="1345.6" y1="10" x2="1345.6" y2="590"/>
</g>
<g>
<line class="ar" x1="343" y1="546" x2="346" y2="372"/>
<line class="ar" x1="371" y1="371" x2="376" y2="441"/>
<line class="ar" x1="370" y1="371" x2="372" y2="493"/>
<line class="ar" x1="372" y1="371" x2="374" y2="527"/>
<line x1="373" y1="371" x2="373" y2="493" stroke="#000" stroke-width="1"/>
<line class="ar" x1="576" y1="389" x2="578" y2="476"/>
<line class="ar" x1="582" y1="553" x2="585" y2="426"/>
<line class="ar" x1="582" y1="553" x2="587" y2="444"/>
<line class="ar" x1="582" y1="553" x2="590" y2="494"/>
<line class="ar" x1="647" y1="424" x2="663" y2="424"/>
<line class="ar" x1="647" y1="424" x2="681" y2="441"/>
<line class="ar" x1="647" y1="424" x2="681" y2="493"/>
<line class="ar" x1="647" y1="424" x2="681" y2="526"/>
<line class="ar" x1="651" y1="493" x2="683" y2="372"/>
<line class="ar" x1="651" y1="493" x2="682" y2="408"/>
<line class="ar" x1="651" y1="493" x2="721" y2="476"/>
<line class="ar" x1="651" y1="493" x2="784" y2="422"/>
<line class="ar" x1="656" y1="493" x2="812" y2="406"/>
<line x1="660" y1="493" x2="790" y2="493" stroke="#555" stroke-width="1.3" marker-end="url(#ah)"/>
<line class="ar" x1="660" y1="441" x2="783" y2="423"/>
<line class="ar" x1="660" y1="441" x2="781" y2="528"/>
<line class="ar" x1="640" y1="564" x2="660" y2="564"/>
</g>
<text class="lab" x="168" y="22.5">/job:worker/replica:0/task:0/cpu:0</text>
<text class="lab" x="168" y="102">/job:worker/replica:0/task:0/gpu:0</text>
<text class="lab" x="168" y="181.3">gpu:0/memcpy</text>
<text class="lab" x="168" y="198.9">gpu:0/stream</text>
<text class="lab" x="168" y="216.5">gpu:0/stream:12</text>
<text class="lab" x="168" y="234.1">gpu:0/stream:13</text>
<text class="lab" x="168" y="251.7">gpu:0/stream:14</text>
<text class="lab" x="168" y="269.3">gpu:0/stream:15</text>
<text class="lab" x="168" y="286.9">gpu:0/stream:16</text>
<text class="lab" x="168" y="304.5">gpu:0/stream:17</text>
<text class="lab" x="168" y="322.1">gpu:0/stream:18</text>
<text class="lab" x="168" y="339.7">gpu:0/stream:19</text>
<text class="lab" x="168" y="357.3">gpu:0/stream:26</text>
<text class="lab" x="168" y="374.9">ktrace/cpu12</text>
<text class="lab" x="168" y="392.5">ktrace/cpu13</text>
<text class="lab" x="168" y="410.1">ktrace/cpu14</text>
<text class="lab" x="168" y="427.7">ktrace/cpu15</text>
<text class="lab" x="168" y="445.3">ktrace/cpu16</text>
<text class="lab" x="168" y="462.9">ktrace/cpu17</text>
<text class="lab" x="168" y="480.5">ktrace/cpu18</text>
<text class="lab" x="168" y="498.1">ktrace/cpu19</text>
<text class="lab" x="168" y="515.7">ktrace/cpu20</text>
<text class="lab" x="168" y="533.3">ktrace/cpu21</text>
<text class="lab" x="168" y="550.9">ktrace/cpu22</text>
<text class="lab" x="168" y="568.5">ktrace/cpu23</text>
<text class="lab" x="168" y="586.1">ktrace/cpu44</text>
<text class="pct" x="1392" y="186.4">0%</text>
<text class="pct" x="1392" y="204">80%</text>
<text class="pct" x="1392" y="380">13%</text>
<text class="pct" x="1392" y="397.6">23%</text>
<text class="pct" x="1392" y="415.2">13%</text>
<text class="pct" x="1392" y="432.8">21%</text>
<text class="pct" x="1392" y="450.4">18%</text>
<text class="pct" x="1392" y="468">1%</text>
<text class="pct" x="1392" y="485.6">5%</text>
<text class="pct" x="1392" y="503.2">13%</text>
<text class="pct" x="1392" y="520.8">4%</text>
<text class="pct" x="1392" y="538.4">18%</text>
<text class="pct" x="1392" y="556">4%</text>
<text class="pct" x="1392" y="573.6">18%</text>
<text class="pct" x="1392" y="591.2">1%</text>
<text class="ax" x="223" y="602">7,692,000</text>
<text class="ax" x="316.5" y="602">7,694,000</text>
<text class="ax" x="410.1" y="602">7,696,000</text>
<text class="ax" x="503.6" y="602">7,698,000</text>
<text class="ax" x="597.2" y="602">7,700,000</text>
<text class="ax" x="690.7" y="602">7,702,000</text>
<text class="ax" x="784.3" y="602">7,704,000</text>
<text class="ax" x="877.8" y="602">7,706,000</text>
<text class="ax" x="971.4" y="602">7,708,000</text>
<text class="ax" x="1064.9" y="602">7,710,000</text>
<text class="ax" x="1158.5" y="602">7,712,000</text>
<text class="ax" x="1252" y="602">7,714,000</text>
<text class="ax" x="1345.6" y="602">7,716,000</text>
<rect x="1113" y="265" width="316" height="42" rx="4" ry="4" fill="#ffff10" fill-opacity="0.93"/>
<text x="1271" y="284.5" font-size="13" fill="#333" text-anchor="middle">[289us] gradients/AddN_274:AddN regs:30 shm:0</text>
<text x="1271" y="299.5" font-size="13" fill="#333" text-anchor="middle">grid:30,1,1 block:1024,1,1 : AddN</text>
</svg>
</body></html>
